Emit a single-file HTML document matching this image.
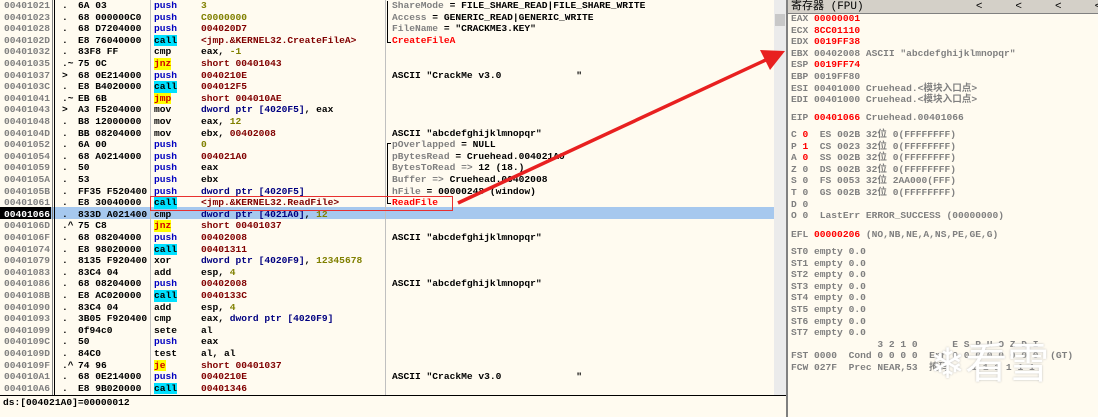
<!DOCTYPE html><html><head><meta charset="utf-8"><style>
body{margin:0;width:1098px;height:417px;overflow:hidden;background:#fffbf0;font-family:"Liberation Mono","Noto Sans CJK SC",monospace;font-size:9.6px;font-weight:bold;position:relative}
.r{position:absolute;left:0;width:775px;height:11.6px;line-height:11.6px;white-space:pre}
.r>span{position:absolute;top:0}
.a{left:4px;color:#808080}.d{left:62px;color:#000}.h{left:78px}.m{left:154px}.o{left:201px}.c{left:392px}
.bl{color:#0000c0}.cy{background:#00e0ff;color:#000}.yj{background:#ffff00;color:#d00000}
.dr{color:#800000}.nv{color:#000080}.ol{color:#808000}.gr{color:#808080}.rd{color:#ff0000}
.g{position:absolute;white-space:pre;line-height:11.6px;color:#808080}
.v{position:absolute;top:0;bottom:0;width:1px;background:#808080}
.br{position:absolute;left:387px;width:3px;border-left:1.5px solid #000}
</style></head><body>
<div style="position:absolute;left:0;top:207px;width:775px;height:12px;background:#a6c8ee"></div>
<div style="position:absolute;left:0;top:207px;width:51px;height:12px;background:#000"></div>
<div class="v" style="left:52px;bottom:22px"></div><div class="v" style="left:54px;bottom:22px;background:#000"></div>
<div class="v" style="left:150px;bottom:22px;background:#c0c0c0"></div>
<div class="v" style="left:385px;bottom:22px;background:#c0c0c0"></div>
<div class="br" style="top:1px;height:41px;border-bottom:1.5px solid #000"></div>
<div class="br" style="top:143px;height:59px;border-top:1.5px solid #000;border-bottom:1.5px solid #000"></div>
<div style="position:absolute;left:0;top:395px;width:787px;height:1px;background:#000"></div>
<div style="position:absolute;left:774px;top:0;width:12px;height:395px;background:#ebebeb"></div>
<div style="position:absolute;left:775px;top:14px;width:10px;height:12px;background:#c8c8c8"></div>
<div style="position:absolute;left:786px;top:0;width:2px;height:417px;background:#808080"></div>

<div class="r" style="top:0px"><span class="a">00401021</span><span class="d">.</span><span class="h">6A 03</span><span class="m bl">push</span><span class="o ol">3</span><span class="c"><span class="gr">ShareMode</span> = FILE_SHARE_READ|FILE_SHARE_WRITE</span></div>
<div class="r" style="top:11.6px"><span class="a">00401023</span><span class="d">.</span><span class="h">68 000000C0</span><span class="m bl">push</span><span class="o ol">C0000000</span><span class="c"><span class="gr">Access</span> = GENERIC_READ|GENERIC_WRITE</span></div>
<div class="r" style="top:23.2px"><span class="a">00401028</span><span class="d">.</span><span class="h">68 D7204000</span><span class="m bl">push</span><span class="o dr">004020D7</span><span class="c"><span class="gr">FileName</span> = "CRACKME3.KEY"</span></div>
<div class="r" style="top:34.8px"><span class="a">0040102D</span><span class="d">.</span><span class="h">E8 76040000</span><span class="m cy">call</span><span class="o dr">&lt;jmp.&amp;KERNEL32.CreateFileA&gt;</span><span class="c rd">CreateFileA</span></div>
<div class="r" style="top:46.4px"><span class="a">00401032</span><span class="d">.</span><span class="h">83F8 FF</span><span class="m">cmp</span><span class="o">eax, <span class="ol">-1</span></span></div>
<div class="r" style="top:58px"><span class="a">00401035</span><span class="d">.~</span><span class="h">75 0C</span><span class="m yj">jnz</span><span class="o dr">short 00401043</span></div>
<div class="r" style="top:69.6px"><span class="a">00401037</span><span class="d">&gt;</span><span class="h">68 0E214000</span><span class="m bl">push</span><span class="o dr">0040210E</span><span class="c">ASCII "CrackMe v3.0             "</span></div>
<div class="r" style="top:81.2px"><span class="a">0040103C</span><span class="d">.</span><span class="h">E8 B4020000</span><span class="m cy">call</span><span class="o dr">004012F5</span></div>
<div class="r" style="top:92.8px"><span class="a">00401041</span><span class="d">.~</span><span class="h">EB 6B</span><span class="m yj">jmp</span><span class="o dr">short 004010AE</span></div>
<div class="r" style="top:104.4px"><span class="a">00401043</span><span class="d">&gt;</span><span class="h">A3 F5204000</span><span class="m">mov</span><span class="o"><span class="nv">dword ptr [4020F5]</span>, eax</span></div>
<div class="r" style="top:116px"><span class="a">00401048</span><span class="d">.</span><span class="h">B8 12000000</span><span class="m">mov</span><span class="o">eax, <span class="ol">12</span></span></div>
<div class="r" style="top:127.6px"><span class="a">0040104D</span><span class="d">.</span><span class="h">BB 08204000</span><span class="m">mov</span><span class="o">ebx, <span class="dr">00402008</span></span><span class="c">ASCII "abcdefghijklmnopqr"</span></div>
<div class="r" style="top:139.2px"><span class="a">00401052</span><span class="d">.</span><span class="h">6A 00</span><span class="m bl">push</span><span class="o ol">0</span><span class="c"><span class="gr">pOverlapped</span> = NULL</span></div>
<div class="r" style="top:150.8px"><span class="a">00401054</span><span class="d">.</span><span class="h">68 A0214000</span><span class="m bl">push</span><span class="o dr">004021A0</span><span class="c"><span class="gr">pBytesRead</span> = Cruehead.004021A0</span></div>
<div class="r" style="top:162.4px"><span class="a">00401059</span><span class="d">.</span><span class="h">50</span><span class="m bl">push</span><span class="o">eax</span><span class="c"><span class="gr">BytesToRead =&gt;</span> 12 (18.)</span></div>
<div class="r" style="top:174px"><span class="a">0040105A</span><span class="d">.</span><span class="h">53</span><span class="m bl">push</span><span class="o">ebx</span><span class="c"><span class="gr">Buffer =&gt;</span> Cruehead.00402008</span></div>
<div class="r" style="top:185.6px"><span class="a">0040105B</span><span class="d">.</span><span class="h">FF35 F520400</span><span class="m bl">push</span><span class="o nv">dword ptr [4020F5]</span><span class="c"><span class="gr">hFile</span> = 00000248 (window)</span></div>
<div class="r" style="top:197.2px"><span class="a">00401061</span><span class="d">.</span><span class="h">E8 30040000</span><span class="m cy">call</span><span class="o dr">&lt;jmp.&amp;KERNEL32.ReadFile&gt;</span><span class="c rd">ReadFile</span></div>
<div class="r" style="top:208.8px"><span class="a" style="color:#fff">00401066</span><span class="d">.</span><span class="h">833D A021400</span><span class="m">cmp</span><span class="o"><span class="nv">dword ptr [4021A0]</span>, <span class="ol">12</span></span></div>
<div class="r" style="top:220.4px"><span class="a">0040106D</span><span class="d">.^</span><span class="h">75 C8</span><span class="m yj">jnz</span><span class="o dr">short 00401037</span></div>
<div class="r" style="top:232px"><span class="a">0040106F</span><span class="d">.</span><span class="h">68 08204000</span><span class="m bl">push</span><span class="o dr">00402008</span><span class="c">ASCII "abcdefghijklmnopqr"</span></div>
<div class="r" style="top:243.6px"><span class="a">00401074</span><span class="d">.</span><span class="h">E8 98020000</span><span class="m cy">call</span><span class="o dr">00401311</span></div>
<div class="r" style="top:255.2px"><span class="a">00401079</span><span class="d">.</span><span class="h">8135 F920400</span><span class="m">xor</span><span class="o"><span class="nv">dword ptr [4020F9]</span>, <span class="ol">12345678</span></span></div>
<div class="r" style="top:266.8px"><span class="a">00401083</span><span class="d">.</span><span class="h">83C4 04</span><span class="m">add</span><span class="o">esp, <span class="ol">4</span></span></div>
<div class="r" style="top:278.4px"><span class="a">00401086</span><span class="d">.</span><span class="h">68 08204000</span><span class="m bl">push</span><span class="o dr">00402008</span><span class="c">ASCII "abcdefghijklmnopqr"</span></div>
<div class="r" style="top:290px"><span class="a">0040108B</span><span class="d">.</span><span class="h">E8 AC020000</span><span class="m cy">call</span><span class="o dr">0040133C</span></div>
<div class="r" style="top:301.6px"><span class="a">00401090</span><span class="d">.</span><span class="h">83C4 04</span><span class="m">add</span><span class="o">esp, <span class="ol">4</span></span></div>
<div class="r" style="top:313.2px"><span class="a">00401093</span><span class="d">.</span><span class="h">3B05 F920400</span><span class="m">cmp</span><span class="o">eax, <span class="nv">dword ptr [4020F9]</span></span></div>
<div class="r" style="top:324.8px"><span class="a">00401099</span><span class="d">.</span><span class="h">0f94c0</span><span class="m">sete</span><span class="o">al</span></div>
<div class="r" style="top:336.4px"><span class="a">0040109C</span><span class="d">.</span><span class="h">50</span><span class="m bl">push</span><span class="o">eax</span></div>
<div class="r" style="top:348px"><span class="a">0040109D</span><span class="d">.</span><span class="h">84C0</span><span class="m">test</span><span class="o">al, al</span></div>
<div class="r" style="top:359.6px"><span class="a">0040109F</span><span class="d">.^</span><span class="h">74 96</span><span class="m yj">je</span><span class="o dr">short 00401037</span></div>
<div class="r" style="top:371.2px"><span class="a">004010A1</span><span class="d">.</span><span class="h">68 0E214000</span><span class="m bl">push</span><span class="o dr">0040210E</span><span class="c">ASCII "CrackMe v3.0             "</span></div>
<div class="r" style="top:382.8px"><span class="a">004010A6</span><span class="d">.</span><span class="h">E8 9B020000</span><span class="m cy">call</span><span class="o dr">00401346</span></div>
<div class="g" style="left:3px;top:397px;color:#000">ds:[004021A0]=00000012</div>

<div style="position:absolute;left:150px;top:196px;width:301px;height:13px;border:1.5px solid #e83030"></div>

<div style="position:absolute;left:788px;top:0;width:310px;height:13px;background:#d4d0c8;border-bottom:1px solid #808080"></div>
<div class="g" style="left:791px;top:1px;color:#000;font-size:11px;line-height:12px;font-weight:normal">寄存器 (FPU)                 &lt;     &lt;     &lt;     &lt;</div>
<div class="g" style="left:791px;top:13px">EAX <span class="rd">00000001</span>
ECX <span class="rd">8CC01110</span>
EDX <span class="rd">0019FF38</span>
EBX 00402008 ASCII "abcdefghijklmnopqr"
ESP <span class="rd">0019FF74</span>
EBP 0019FF80
ESI 00401000 Cruehead.&lt;模块入口点&gt;
EDI 00401000 Cruehead.&lt;模块入口点&gt;</div>
<div class="g" style="left:791px;top:112px">EIP <span class="rd">00401066</span> Cruehead.00401066</div>
<div class="g" style="left:791px;top:129px">C <span class="rd">0</span>  ES 002B 32位 0(FFFFFFFF)
P <span class="rd">1</span>  CS 0023 32位 0(FFFFFFFF)
A <span class="rd">0</span>  SS 002B 32位 0(FFFFFFFF)
Z 0  DS 002B 32位 0(FFFFFFFF)
S 0  FS 0053 32位 2AA000(FFF)
T 0  GS 002B 32位 0(FFFFFFFF)
D 0
O 0  LastErr ERROR_SUCCESS (00000000)</div>
<div class="g" style="left:791px;top:229px">EFL <span class="rd">00000206</span> (NO,NB,NE,A,NS,PE,GE,G)</div>
<div class="g" style="left:791px;top:246px">ST0 empty 0.0
ST1 empty 0.0
ST2 empty 0.0
ST3 empty 0.0
ST4 empty 0.0
ST5 empty 0.0
ST6 empty 0.0
ST7 empty 0.0
               3 2 1 0      E S P U O Z D I
FST 0000  Cond 0 0 0 0  Err 0 0 0 0 0 0 0 0  (GT)
FCW 027F  Prec NEAR,53  掩码    1 1 1 1 1 1</div>
<div class="g" style="left:930px;top:336px;font-size:42px;line-height:50px;color:#fff;font-weight:normal;font-family:'Noto Sans CJK SC',sans-serif;text-shadow:0 0 2px #bbb">❄看雪</div>

<svg style="position:absolute;left:0;top:0" width="1098" height="417"><line x1="458" y1="203" x2="770" y2="58" stroke="#e82020" stroke-width="3.5"/><polygon points="785,51 760,50 770,70" fill="#e82020"/></svg>
</body></html>
